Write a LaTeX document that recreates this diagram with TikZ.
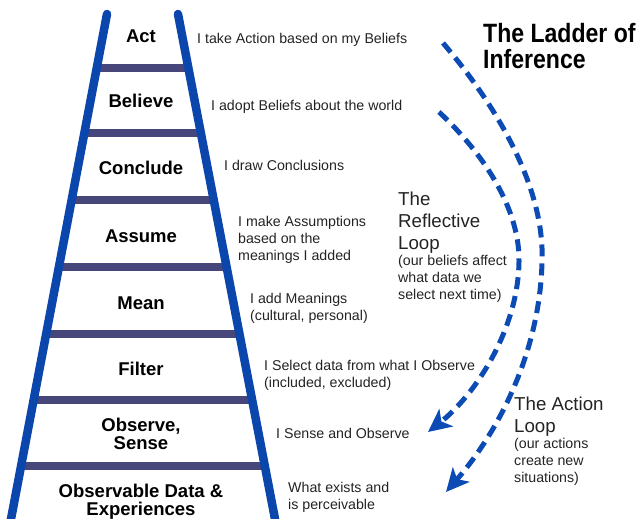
\documentclass[tikz,border=0pt]{standalone}
\usepackage{fontspec}
\setmainfont{Liberation Sans}
\usetikzlibrary{arrows.meta,calc}
\definecolor{railblue}{RGB}{10,70,172}
\definecolor{rungcol}{RGB}{70,70,122}
\definecolor{loopblue}{RGB}{12,74,180}
\definecolor{txt}{RGB}{35,35,35}
\begin{document}
\begin{tikzpicture}[x=1pt,y=-1pt,
  rail/.style={railblue, line width=8.5pt, line cap=round},
  rung/.style={rungcol, line width=8pt},
  stepname/.style={font=\fontsize{18.5}{18}\selectfont\bfseries, align=center, inner sep=0pt, text=black},
  desc/.style={font=\fontsize{14.2}{17}\selectfont, align=left, anchor=north west, inner sep=0pt, text=txt},
  loophead/.style={font=\fontsize{18.7}{22}\selectfont, align=left, anchor=north west, inner sep=0pt, text=txt},
  looparrow/.style={loopblue, line width=5pt, dash pattern=on 12pt off 7pt, -{Stealth[length=23pt,width=22pt,inset=6pt]}},
]
\useasboundingbox (0,0) rectangle (638,519);
\clip (0,0) rectangle (638,519);
% ladder rails
\coordinate (lt) at (107,14);
\coordinate (lb) at (11,519);
\coordinate (rt) at (178,14);
\coordinate (rb) at (275,519);
\foreach \f in {0.106,0.2366,0.368,0.5,0.6337,0.764,0.896}
  \draw[rung] ($(lt)!\f!(lb)$) -- ($(rt)!\f!(rb)$);
\draw[rail] (lt) -- ($(lt)!1.02!(lb)$);
\draw[rail] (rt) -- ($(rt)!1.02!(rb)$);
% step names
\node[stepname, anchor=base] (act) at (141,43) {Act};
\node[stepname, anchor=base] (believe) at (141,108) {Believe};
\node[stepname, anchor=base] (conclude) at (141,174) {Conclude};
\node[stepname, anchor=base] (assume) at (141,242) {Assume};
\node[stepname, anchor=base] (mean) at (141,309) {Mean};
\node[stepname, anchor=base] (filter) at (141,375) {Filter};
\node[stepname, anchor=north] (observe) at (141,418) {Observe,\\Sense};
\node[stepname, anchor=north] (data) at (141,484) {Observable Data \&\\Experiences};
% descriptions
\node[desc] (d1) at (197,33) {I take Action based on my Beliefs};
\node[desc] (d2) at (211,100) {I adopt Beliefs about the world};
\node[desc] (d3) at (224,160) {I draw Conclusions};
\node[desc] (d4) at (238,216) {I make Assumptions\\based on the\\meanings I added};
\node[desc] (d5) at (250,293) {I add Meanings\\(cultural, personal)};
\node[desc] (d6) at (264,360) {I Select data from what I Observe\\(included, excluded)};
\node[desc] (d7) at (276,428) {I Sense and Observe};
\node[desc] (d8) at (288,482) {What exists and\\is perceivable};
% title
\node[anchor=north west, inner sep=0pt, align=left, text=black,
      font=\fontsize{26.5}{26}\selectfont\bfseries] (title) at (483,23)
  {\scalebox{0.87}[1]{The Ladder of}\\\scalebox{0.87}[1]{Inference}};
% loops
\coordinate (o1) at (443,43);
\coordinate (o2) at (446,492);
\draw[looparrow] (o1) .. controls (500,110) and (545,190) .. (542,262)
  .. controls (540,350) and (500,430) .. (o2);
\coordinate (i1) at (439,112);
\coordinate (i2) at (428,432);
\draw[looparrow] (i1) .. controls (485,155) and (520,210) .. (519,262)
  .. controls (518,330) and (475,395) .. (i2);
% loop labels
\node[loophead] (refl) at (398,192) {The\\Reflective\\Loop};
\node[desc] (reflnote) at (398,255) {(our beliefs affect\\what data we\\select next time)};
\node[loophead] (action) at (514,397) {The Action\\Loop};
\node[desc] (actnote) at (514,438) {(our actions\\create new\\situations)};
\end{tikzpicture}
\end{document}
